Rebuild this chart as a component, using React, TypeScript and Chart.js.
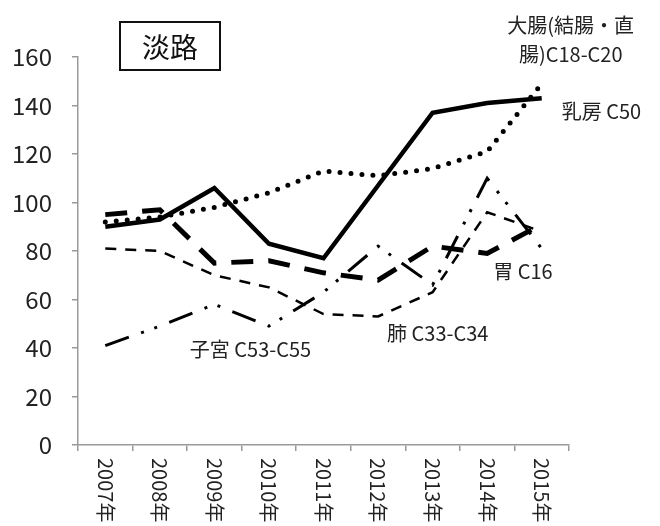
import React, { useEffect, useRef } from "react";
import { Chart, registerables } from "chart.js";

Chart.register(...registerables);

const years = ["2007年", "2008年", "2009年", "2010年", "2011年", "2012年", "2013年", "2014年", "2015年"];
const breast = [90, 93, 106, 83, 77, 107, 137, 141, 143];
const colon = [92, 94, 98, 104, 113, 111, 114, 121, 149];
const stomach = [95, 97, 75, 76, 71, 68, 82, 79, 91];
const lung = [81, 80, 70, 65, 54, 53, 63, 96, 88];
const uterus = [41, 49, 58, 49, 63, 82, 66, 110, 81];
const yTicks = [0, 20, 40, 60, 80, 100, 120, 140, 160];
const title = "淡路";

// annotation labels anchored to category index + value
const labels = [
  { text: "大腸(結腸・直", i: 8, dx: 29, v: 173, align: "center" },
  { text: "腸)C18-C20", i: 8, dx: 29, v: 161, align: "center" },
  { text: "乳房 C50", i: 8, dx: 20, v: 137.5, align: "left" },
  { text: "胃 C16", i: 7, dx: 6, v: 71.5, align: "left" },
  { text: "肺 C33-C34", i: 5, dx: 9, v: 46, align: "left" },
  { text: "子宮 C53-C55", i: 1, dx: 30, v: 39.5, align: "left" },
];

const JP = '"Noto Sans CJK JP", "Noto Sans", sans-serif';

const drawPlugin = {
  id: "customDraw",
  beforeDraw(chart: any) {
    const { ctx, width, height } = chart;
    ctx.save();
    ctx.fillStyle = "#ffffff";
    ctx.fillRect(0, 0, width, height);
    ctx.restore();
  },
  afterDraw(chart: any) {
    const { ctx } = chart;
    const x = chart.scales.x;
    const y = chart.scales.y;
    ctx.save();
    // rotated x labels (clockwise)
    ctx.font = `20px ${JP}`;
    ctx.fillStyle = "#222";
    ctx.textAlign = "left";
    ctx.textBaseline = "middle";
    years.forEach((lab, i) => {
      const px = x.getPixelForValue(i);
      ctx.save();
      ctx.translate(px, x.top + 13);
      ctx.rotate(Math.PI / 2);
      ctx.fillText(lab, 0, 0);
      ctx.restore();
    });
    // series labels
    ctx.font = `20px ${JP}`;
    ctx.fillStyle = "#222";
    labels.forEach((l) => {
      ctx.textAlign = l.align as CanvasTextAlign;
      ctx.textBaseline = "middle";
      ctx.fillText(l.text, x.getPixelForValue(l.i) + l.dx, y.getPixelForValue(l.v));
    });
    // title box
    const bx = chart.chartArea.left + 42;
    ctx.lineWidth = 2;
    ctx.strokeStyle = "#111";
    ctx.strokeRect(bx, 22, 100, 48);
    ctx.font = `28px ${JP}`;
    ctx.textAlign = "center";
    ctx.textBaseline = "middle";
    ctx.fillStyle = "#111";
    ctx.fillText(title, bx + 50, 47);
    ctx.restore();
  },
};

export default function App() {
  const ref = useRef<HTMLCanvasElement | null>(null);
  useEffect(() => {
    if (!ref.current) return;
    const chart = new Chart(ref.current, {
      type: "line",
      data: {
        labels: years,
        datasets: [
          {
            label: "乳房 C50",
            data: breast,
            borderColor: "#000",
            borderWidth: 4.5,
            pointRadius: 0,
            tension: 0,
            order: 0,
          },
          {
            label: "大腸(結腸・直腸)C18-C20",
            data: colon,
            borderColor: "#000",
            borderWidth: 5,
            borderDash: [0, 11],
            borderCapStyle: "round",
            pointRadius: 0,
            tension: 0,
            order: 1,
          },
          {
            label: "胃 C16",
            data: stomach,
            borderColor: "#000",
            borderWidth: 5,
            borderDash: [22, 15],
            pointRadius: 0,
            tension: 0,
            order: 2,
          },
          {
            label: "肺 C33-C34",
            data: lung,
            borderColor: "#000",
            borderWidth: 2.5,
            borderDash: [11, 9],
            pointRadius: 0,
            tension: 0,
            order: 3,
          },
          {
            label: "子宮 C53-C55",
            data: uterus,
            borderColor: "#000",
            borderWidth: 3,
            borderDash: [25, 13, 3, 11, 3, 13],
            pointRadius: 0,
            tension: 0,
            order: 4,
          },
        ],
      },
      options: {
        responsive: false,
        animation: false,
        layout: { padding: { left: 0, top: 57, right: 91, bottom: 0 } },
        plugins: {
          legend: { display: false },
          tooltip: { enabled: false },
          title: { display: false },
        },
        scales: {
          x: {
            type: "category",
            offset: true,
            grid: {
              offset: true,
              drawOnChartArea: false,
              drawTicks: true,
              tickLength: 6,
              color: "#999",
              lineWidth: 1.5,
            },
            border: { color: "#999", width: 1.5 },
            ticks: { display: false },
            afterFit: (s: any) => {
              s.height = 81;
            },
          },
          y: {
            min: 0,
            max: 160,
            afterBuildTicks: (s: any) => {
              s.ticks = yTicks.map((v) => ({ value: v }));
            },
            grid: {
              drawOnChartArea: false,
              drawTicks: true,
              tickLength: 6,
              color: "#999",
              lineWidth: 1.5,
            },
            border: { color: "#999", width: 1.5 },
            ticks: {
              padding: 20,
              color: "#222",
              font: { family: JP, size: 24 },
            },
            afterFit: (s: any) => {
              s.width = 78;
            },
          },
        },
      },
      plugins: [drawPlugin],
    } as any);
    return () => chart.destroy();
  }, []);
  return (
    <div style={{ position: "fixed", left: 0, top: 0, width: 660, height: 526, background: "#fff" }}>
      <canvas ref={ref} width={660} height={526} style={{ display: "block" }} />
    </div>
  );
}
